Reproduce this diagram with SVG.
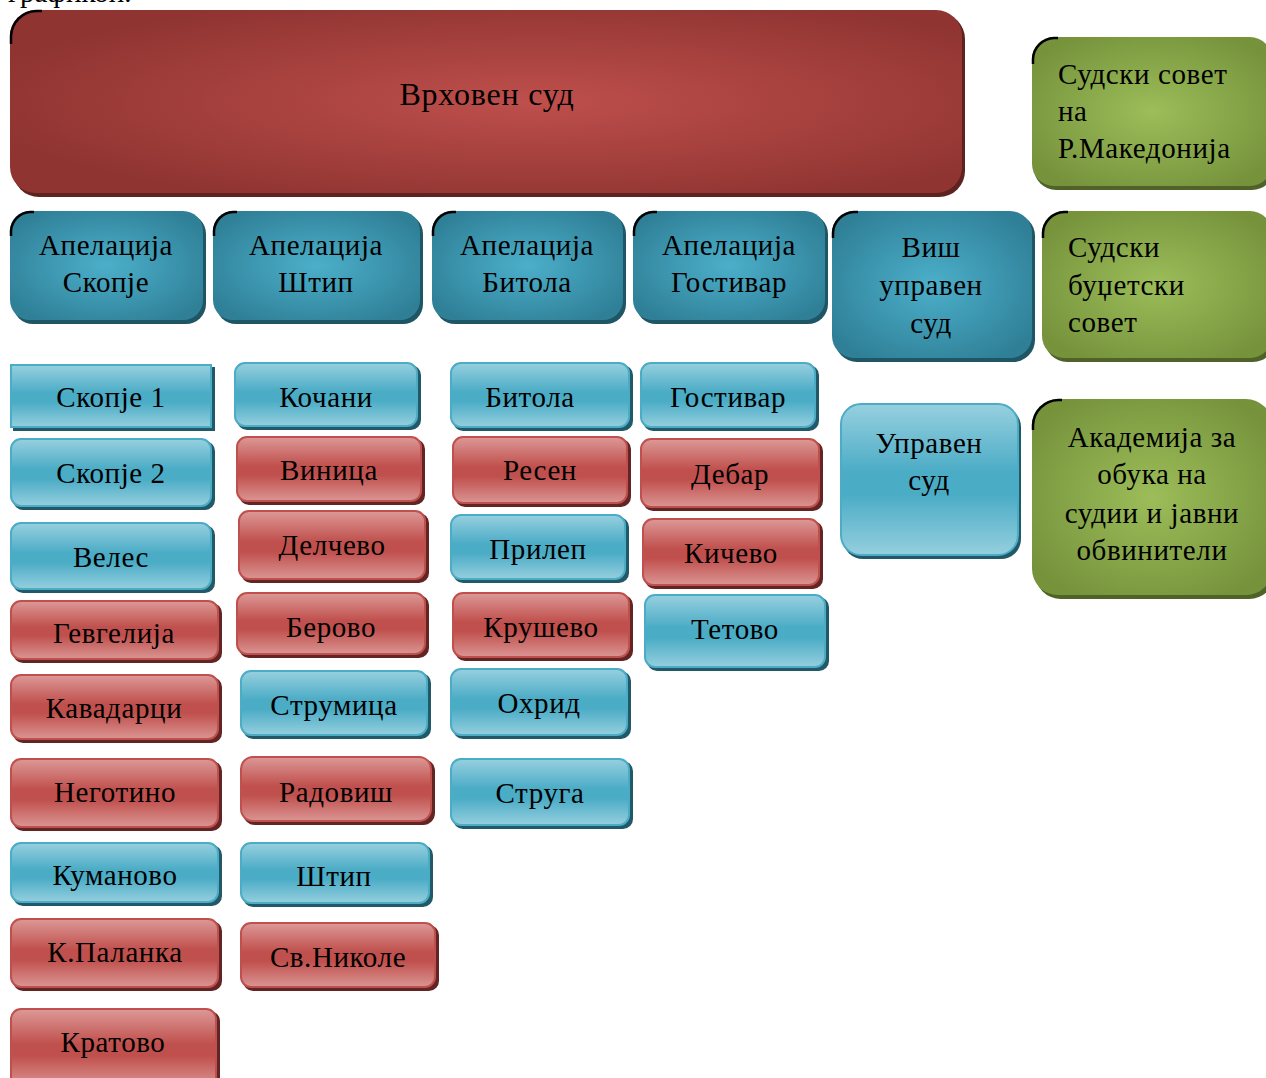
<svg xmlns="http://www.w3.org/2000/svg" width="1266" height="1078" viewBox="0 0 1266 1078">
<style>
text{font-family:"Liberation Serif","DejaVu Serif",serif;fill:#000}
.t{font-size:29px;letter-spacing:0.6px;text-anchor:middle}
.tl{font-size:29px;letter-spacing:0.6px;text-anchor:start}
.tb{font-size:32px;letter-spacing:0.8px;text-anchor:middle}
.sb{fill:#215968}
.sr{fill:#632523}
.sd{fill:#1f5666}
.sg{fill:#4f6228}
.sR{fill:#5e2220}
.lb{fill:url(#gBlue);stroke:#4bacc6;stroke-width:2}
.lr{fill:url(#gRed);stroke:#c0504d;stroke-width:2}
.db{fill:url(#rTeal)}
.gr{fill:url(#rGreen)}
.br{fill:url(#rRed)}
.crn{fill:none;stroke:#000;stroke-width:2.5}
</style>
<defs>
<linearGradient id="gBlue" x1="0" y1="0" x2="0" y2="1">
<stop offset="0" stop-color="#97d0df"/>
<stop offset="0.45" stop-color="#4bacc6"/>
<stop offset="0.6" stop-color="#4bacc6"/>
<stop offset="1" stop-color="#95cfde"/>
</linearGradient>
<linearGradient id="gRed" x1="0" y1="0" x2="0" y2="1">
<stop offset="0" stop-color="#dc9997"/>
<stop offset="0.45" stop-color="#c0504d"/>
<stop offset="0.6" stop-color="#c0504d"/>
<stop offset="1" stop-color="#da9593"/>
</linearGradient>
<radialGradient id="rTeal" cx="0.5" cy="0.5" r="0.6">
<stop offset="0" stop-color="#4cafca"/>
<stop offset="1" stop-color="#2f8097"/>
</radialGradient>
<radialGradient id="rGreen" cx="0.5" cy="0.5" r="0.6">
<stop offset="0" stop-color="#9cbd59"/>
<stop offset="1" stop-color="#76933c"/>
</radialGradient>
<radialGradient id="rRed" cx="0.55" cy="0.5" r="0.6">
<stop offset="0" stop-color="#be4f4c"/>
<stop offset="1" stop-color="#8f3431"/>
</radialGradient>
</defs>

<text x="8" y="2" style="font-size:29px">графикон.</text>

<g id="connectors"/>

<g id="vrhoven-sud">
<rect class="sR" x="13" y="13" width="952" height="184" rx="26"/>
<rect class="br" x="10" y="10" width="952" height="183" rx="26"/>
<path class="crn" d="M11,44 L11,36 A26,26 0 0 1 36,11 L42,11"/>
<text class="tb" x="487" y="105">Врховен суд</text>
</g>

<g id="sudski-sovet">
<rect class="sg" x="1034" y="40" width="240" height="150" rx="22"/>
<rect class="gr" x="1032" y="37" width="240" height="149" rx="22"/>
<path class="crn" d="M1033,64 L1033,59 A22,22 0 0 1 1054,38 L1058,38"/>
<text class="tl" x="1058" y="84">Судски совет</text>
<text class="tl" x="1058" y="121">на</text>
<text class="tl" x="1058" y="158">Р.Македонија</text>
</g>

<g id="apel-skopje">
<rect class="sd" x="13" y="214" width="193" height="110" rx="20"/>
<rect class="db" x="10" y="211" width="193" height="109" rx="20"/>
<path class="crn" d="M11,236 L11,231 A20,20 0 0 1 30,212 L34,212"/>
<text class="t" x="106" y="255">Апелација</text>
<text class="t" x="106" y="292">Скопје</text>
</g>
<g id="apel-shtip">
<rect class="sd" x="216" y="214" width="207" height="110" rx="20"/>
<rect class="db" x="213" y="211" width="207" height="109" rx="20"/>
<path class="crn" d="M214,236 L214,231 A20,20 0 0 1 233,212 L237,212"/>
<text class="t" x="316" y="255">Апелација</text>
<text class="t" x="316" y="292">Штип</text>
</g>
<g id="apel-bitola">
<rect class="sd" x="435" y="214" width="191" height="110" rx="20"/>
<rect class="db" x="432" y="211" width="191" height="109" rx="20"/>
<path class="crn" d="M433,236 L433,231 A20,20 0 0 1 452,212 L456,212"/>
<text class="t" x="527" y="255">Апелација</text>
<text class="t" x="527" y="292">Битола</text>
</g>
<g id="apel-gostivar">
<rect class="sd" x="636" y="214" width="192" height="110" rx="20"/>
<rect class="db" x="633" y="211" width="192" height="109" rx="20"/>
<path class="crn" d="M634,236 L634,231 A20,20 0 0 1 653,212 L657,212"/>
<text class="t" x="729" y="255">Апелација</text>
<text class="t" x="729" y="292">Гостивар</text>
</g>
<g id="vish-upraven-sud">
<rect class="sd" x="835" y="214" width="200" height="148" rx="22"/>
<rect class="db" x="832" y="211" width="200" height="147" rx="22"/>
<path class="crn" d="M833,238 L833,233 A22,22 0 0 1 854,212 L858,212"/>
<text class="t" x="931" y="257">Виш</text>
<text class="t" x="931" y="295">управен</text>
<text class="t" x="931" y="333">суд</text>
</g>
<g id="budzetski-sovet">
<rect class="sg" x="1045" y="214" width="230" height="148" rx="22"/>
<rect class="gr" x="1042" y="211" width="230" height="147" rx="22"/>
<path class="crn" d="M1043,238 L1043,233 A22,22 0 0 1 1064,212 L1068,212"/>
<text class="tl" x="1068" y="257">Судски</text>
<text class="tl" x="1068" y="295">буџетски</text>
<text class="tl" x="1068" y="332">совет</text>
</g>

<g id="upraven-sud">
<rect class="sb" x="843" y="407" width="178" height="152" rx="20"/>
<rect class="lb" x="841" y="404" width="177" height="151" rx="20"/>
<text class="t" x="929" y="453">Управен</text>
<text class="t" x="929" y="490">суд</text>
</g>
<g id="akademija">
<rect class="sg" x="1035" y="402" width="240" height="197" rx="26"/>
<rect class="gr" x="1032" y="399" width="240" height="196" rx="26"/>
<path class="crn" d="M1033,430 L1033,425 A26,26 0 0 1 1058,400 L1062,400"/>
<text class="t" x="1152" y="447">Академија за</text>
<text class="t" x="1152" y="484">обука на</text>
<text class="t" x="1152" y="523">судии и јавни</text>
<text class="t" x="1152" y="560">обвинители</text>
</g>

<g id="skopje1"><rect class="sb" x="13" y="367" width="202" height="64"/><rect class="lb" x="11" y="365" width="200" height="62"/><text class="t" x="111" y="407">Скопје 1</text></g>
<g id="skopje2"><rect class="sb" x="13" y="441" width="202" height="69" rx="10"/><rect class="lb" x="11" y="439" width="200" height="67" rx="10"/><text class="t" x="111" y="483">Скопје 2</text></g>
<g id="veles"><rect class="sb" x="13" y="525" width="202" height="68" rx="10"/><rect class="lb" x="11" y="523" width="200" height="66" rx="10"/><text class="t" x="111" y="567">Велес</text></g>
<g id="gevgelija"><rect class="sr" x="13" y="603" width="209" height="60" rx="10"/><rect class="lr" x="11" y="601" width="207" height="58" rx="10"/><text class="t" x="114" y="643">Гевгелија</text></g>
<g id="kavadarci"><rect class="sr" x="13" y="677" width="209" height="66" rx="10"/><rect class="lr" x="11" y="675" width="207" height="64" rx="10"/><text class="t" x="114" y="718">Кавадарци</text></g>
<g id="negotino"><rect class="sr" x="13" y="761" width="209" height="70" rx="10"/><rect class="lr" x="11" y="759" width="207" height="68" rx="10"/><text class="t" x="115" y="802">Неготино</text></g>
<g id="kumanovo"><rect class="sb" x="13" y="845" width="209" height="61" rx="10"/><rect class="lb" x="11" y="843" width="207" height="59" rx="10"/><text class="t" x="115" y="885">Куманово</text></g>
<g id="kpalanka"><rect class="sr" x="13" y="921" width="209" height="70" rx="10"/><rect class="lr" x="11" y="919" width="207" height="68" rx="10"/><text class="t" x="115" y="962">К.Паланка</text></g>
<g id="kratovo"><rect class="sr" x="13" y="1011" width="207" height="80" rx="10"/><rect class="lr" x="11" y="1009" width="205" height="78" rx="10"/><text class="t" x="113" y="1052">Кратово</text></g>

<g id="kochani"><rect class="sb" x="237" y="365" width="184" height="65" rx="10"/><rect class="lb" x="235" y="363" width="182" height="63" rx="10"/><text class="t" x="326" y="407">Кочани</text></g>
<g id="vinica"><rect class="sr" x="239" y="439" width="186" height="66" rx="10"/><rect class="lr" x="237" y="437" width="184" height="64" rx="10"/><text class="t" x="329" y="480">Виница</text></g>
<g id="delchevo"><rect class="sr" x="241" y="513" width="188" height="70" rx="10"/><rect class="lr" x="239" y="511" width="186" height="68" rx="10"/><text class="t" x="332" y="555">Делчево</text></g>
<g id="berovo"><rect class="sr" x="239" y="595" width="190" height="63" rx="10"/><rect class="lr" x="237" y="593" width="188" height="61" rx="10"/><text class="t" x="331" y="637">Берово</text></g>
<g id="strumica"><rect class="sb" x="243" y="673" width="188" height="66" rx="10"/><rect class="lb" x="241" y="671" width="186" height="64" rx="10"/><text class="t" x="334" y="715">Струмица</text></g>
<g id="radovish"><rect class="sr" x="243" y="759" width="192" height="66" rx="12"/><rect class="lr" x="241" y="757" width="190" height="64" rx="12"/><text class="t" x="336" y="802">Радовиш</text></g>
<g id="shtip"><rect class="sb" x="243" y="845" width="190" height="62" rx="10"/><rect class="lb" x="241" y="843" width="188" height="60" rx="10"/><text class="t" x="334" y="886">Штип</text></g>
<g id="svnikole"><rect class="sr" x="243" y="925" width="196" height="66" rx="10"/><rect class="lr" x="241" y="923" width="194" height="64" rx="10"/><text class="t" x="338" y="967">Св.Николе</text></g>

<g id="bitola"><rect class="sb" x="453" y="365" width="180" height="66" rx="10"/><rect class="lb" x="451" y="363" width="178" height="64" rx="10"/><text class="t" x="530" y="407">Битола</text></g>
<g id="resen"><rect class="sr" x="455" y="439" width="176" height="68" rx="10"/><rect class="lr" x="453" y="437" width="174" height="66" rx="10"/><text class="t" x="540" y="480">Ресен</text></g>
<g id="prilep"><rect class="sb" x="453" y="517" width="176" height="66" rx="10"/><rect class="lb" x="451" y="515" width="174" height="64" rx="10"/><text class="t" x="538" y="559">Прилеп</text></g>
<g id="krushevo"><rect class="sr" x="455" y="595" width="178" height="66" rx="10"/><rect class="lr" x="453" y="593" width="176" height="64" rx="10"/><text class="t" x="541" y="637">Крушево</text></g>
<g id="ohrid"><rect class="sb" x="453" y="671" width="178" height="68" rx="10"/><rect class="lb" x="451" y="669" width="176" height="66" rx="10"/><text class="t" x="539" y="713">Охрид</text></g>
<g id="struga"><rect class="sb" x="453" y="761" width="180" height="68" rx="10"/><rect class="lb" x="451" y="759" width="178" height="66" rx="10"/><text class="t" x="540" y="803">Струга</text></g>

<g id="gostivar"><rect class="sb" x="643" y="365" width="176" height="66" rx="10"/><rect class="lb" x="641" y="363" width="174" height="64" rx="10"/><text class="t" x="728" y="407">Гостивар</text></g>
<g id="debar"><rect class="sr" x="643" y="441" width="180" height="70" rx="10"/><rect class="lr" x="641" y="439" width="178" height="68" rx="10"/><text class="t" x="730" y="484">Дебар</text></g>
<g id="kichevo"><rect class="sr" x="645" y="521" width="178" height="68" rx="10"/><rect class="lr" x="643" y="519" width="176" height="66" rx="10"/><text class="t" x="731" y="563">Кичево</text></g>
<g id="tetovo"><rect class="sb" x="647" y="597" width="182" height="74" rx="10"/><rect class="lb" x="645" y="595" width="180" height="72" rx="10"/><text class="t" x="735" y="639">Тетово</text></g>
</svg>
